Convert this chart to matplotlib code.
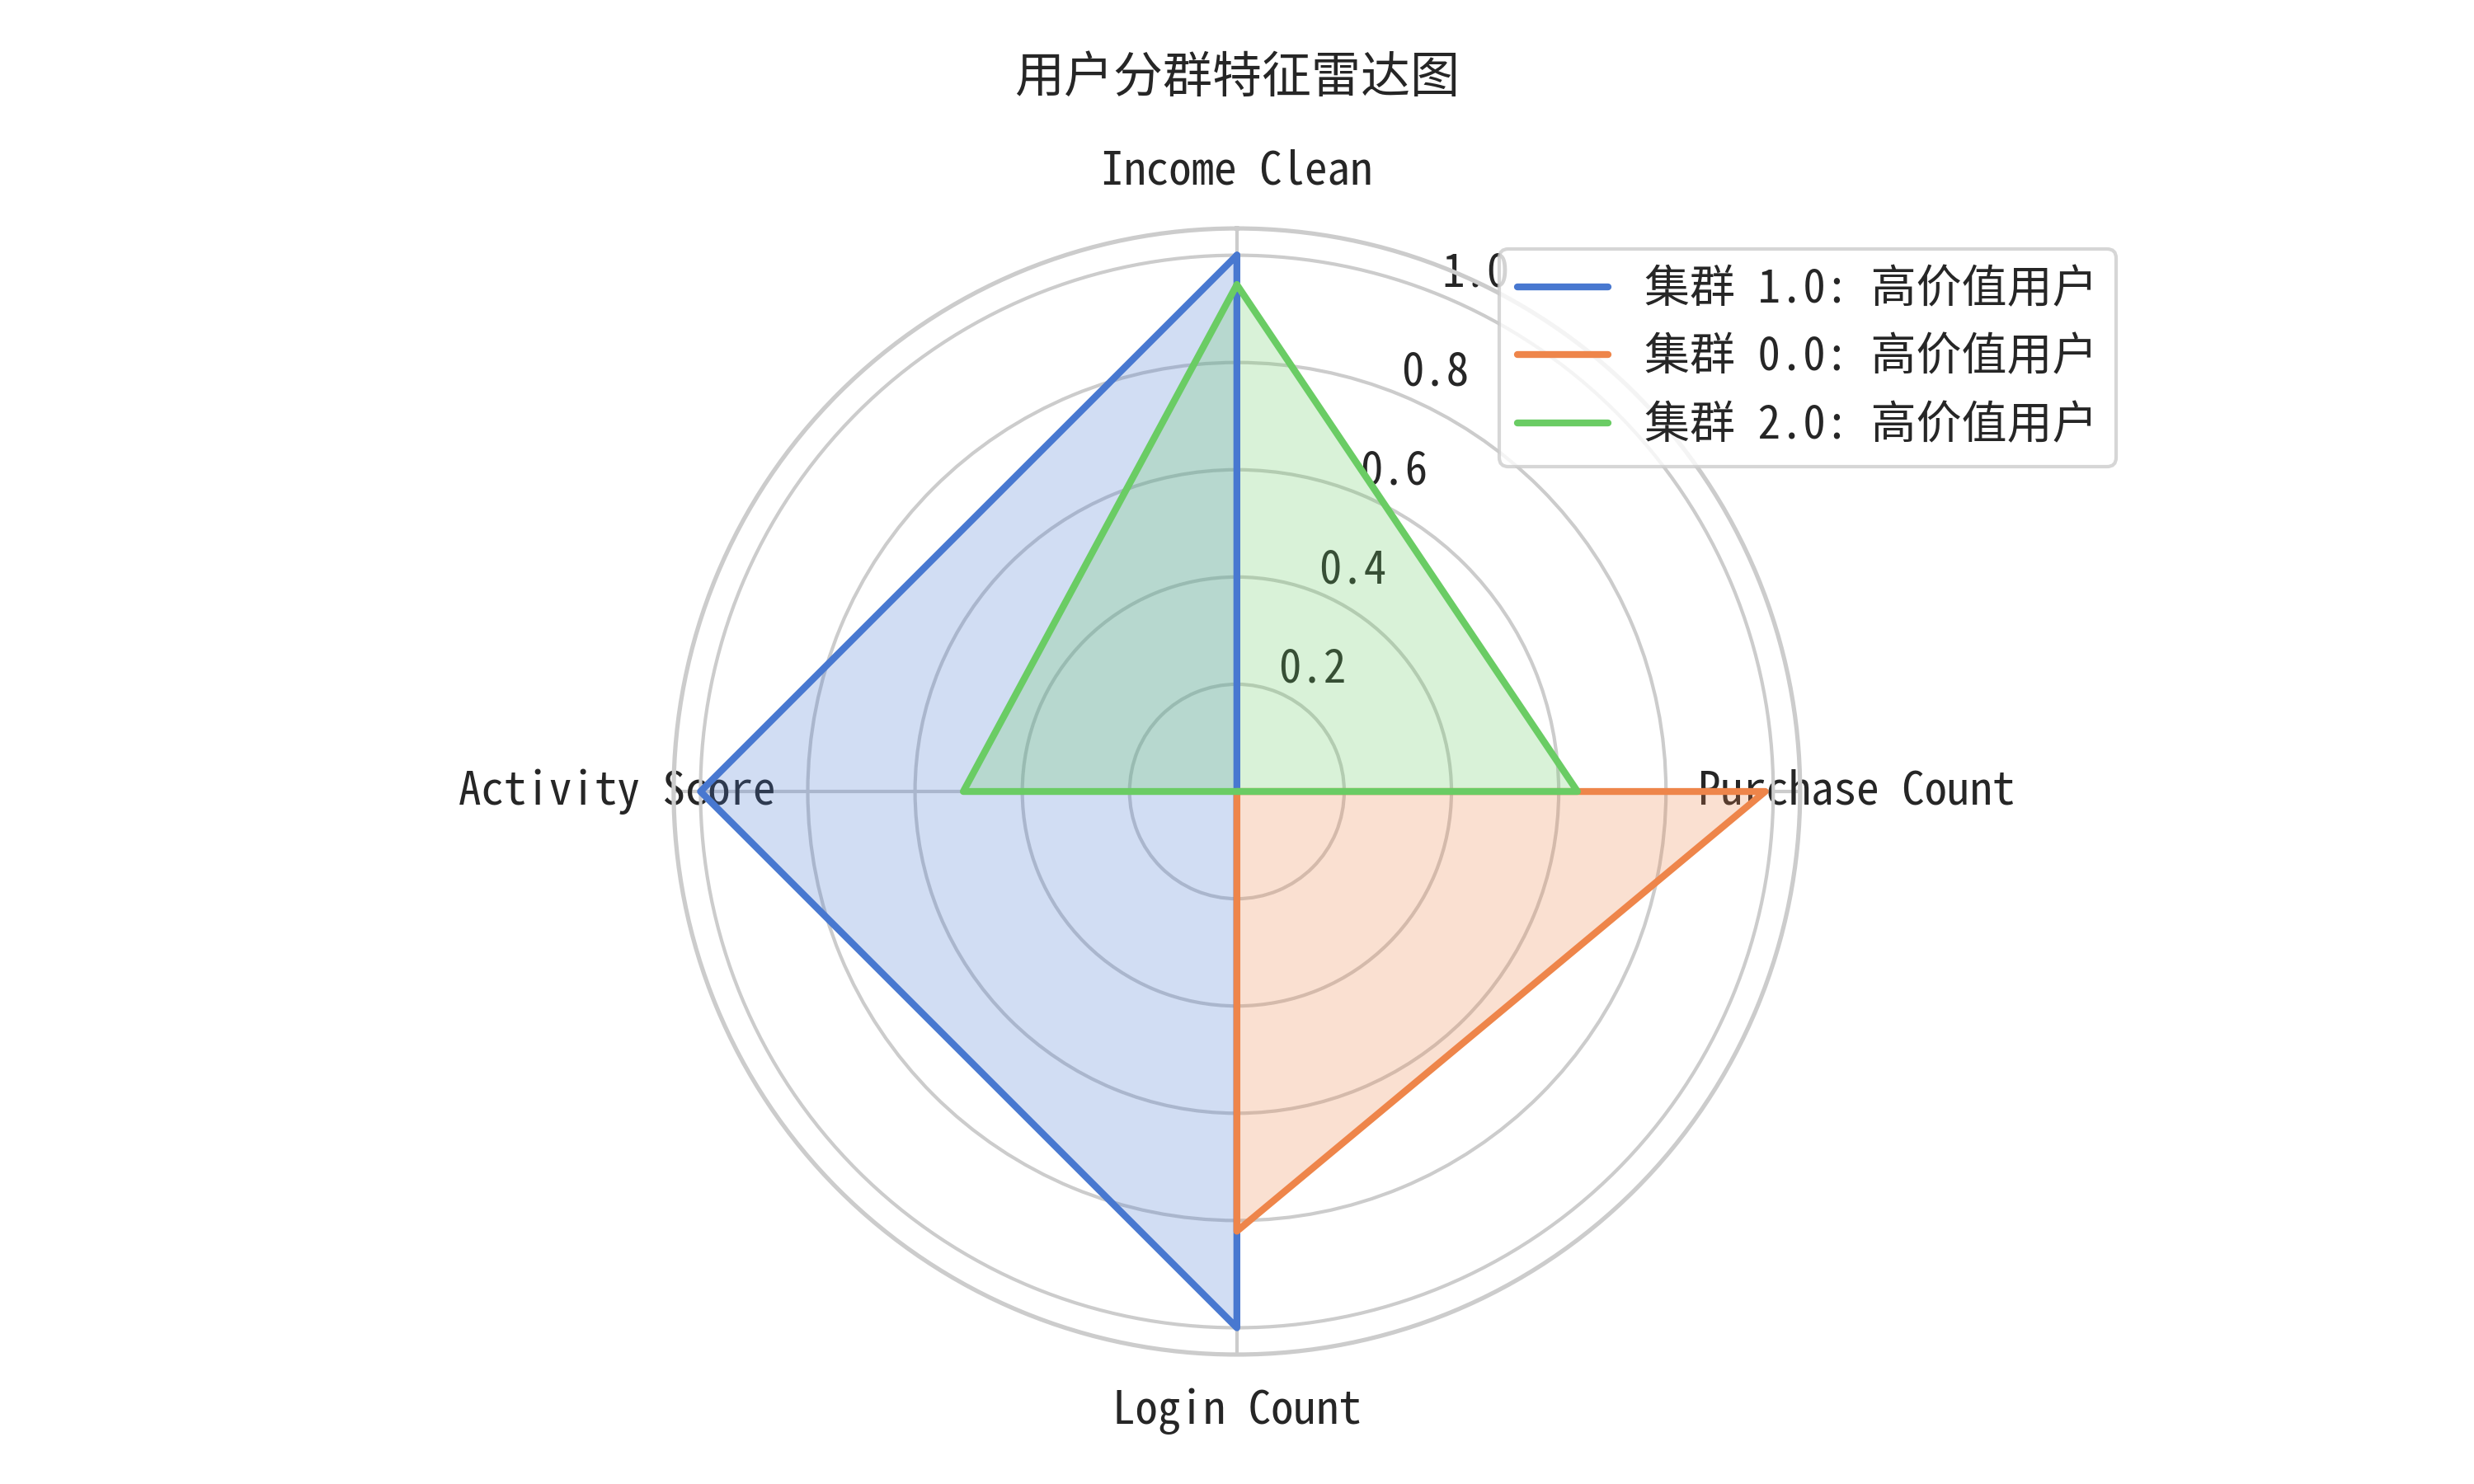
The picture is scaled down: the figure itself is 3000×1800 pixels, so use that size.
import numpy as np
import matplotlib
matplotlib.use("Agg")
import matplotlib.pyplot as plt
import seaborn as sns

# 特征 & 聚类数据 (归一化后的中心值)
features = ["Income Clean", "Purchase Count", "Login Count", "Activity Score"]
cluster_ids = [1.0, 0.0, 2.0]
cluster_names = ["高价值用户", "高价值用户", "高价值用户"]
values_c1 = [1.00, 0.00, 1.00, 1.00]
values_c0 = [0.00, 0.985, 0.82, 0.00]
values_c2 = [0.945, 0.635, 0.00, 0.51]
cluster_values = [values_c1, values_c0, values_c2]

sns.set_theme(style="whitegrid", palette="muted", font_scale=1.2)
plt.rcParams["font.family"] = ["Noto Sans Mono CJK SC", "Noto Sans CJK SC", "DejaVu Sans"]
plt.rcParams["axes.unicode_minus"] = False

colors = sns.color_palette("muted")

angles = np.linspace(0, 2 * np.pi, len(features), endpoint=False).tolist()
angles += angles[:1]

fig = plt.figure(figsize=(10, 6), dpi=300)
ax = fig.add_axes([0.2723, 0.0872, 0.4553, 0.7589], polar=True)
ax.set_theta_offset(np.pi / 2)
ax.set_theta_direction(-1)

for i, (cid, name, vals) in enumerate(zip(cluster_ids, cluster_names, cluster_values)):
    v = list(vals) + vals[:1]
    ax.plot(angles, v, color=colors[i], linewidth=2, label=f"集群 {cid}: {name}")
    ax.fill(angles, v, color=colors[i], alpha=0.25)

ax.set_xticks(angles[:-1])
ax.set_xticklabels(features)
ax.tick_params(axis="x", pad=3.5)
ax.set_ylim(0, 1.05)
ax.set_yticks([0.2, 0.4, 0.6, 0.8, 1.0])
ax.set_yticklabels(["0.2", "0.4", "0.6", "0.8", "1.0"])

fig.suptitle("用户分群特征雷达图", x=0.5, y=0.947, va="center", fontsize=14.4)
ax.legend(loc="upper right", bbox_to_anchor=(0.8553, 0.8322),
          bbox_transform=fig.transFigure, borderaxespad=0)

fig.savefig("out.png", dpi=300)
